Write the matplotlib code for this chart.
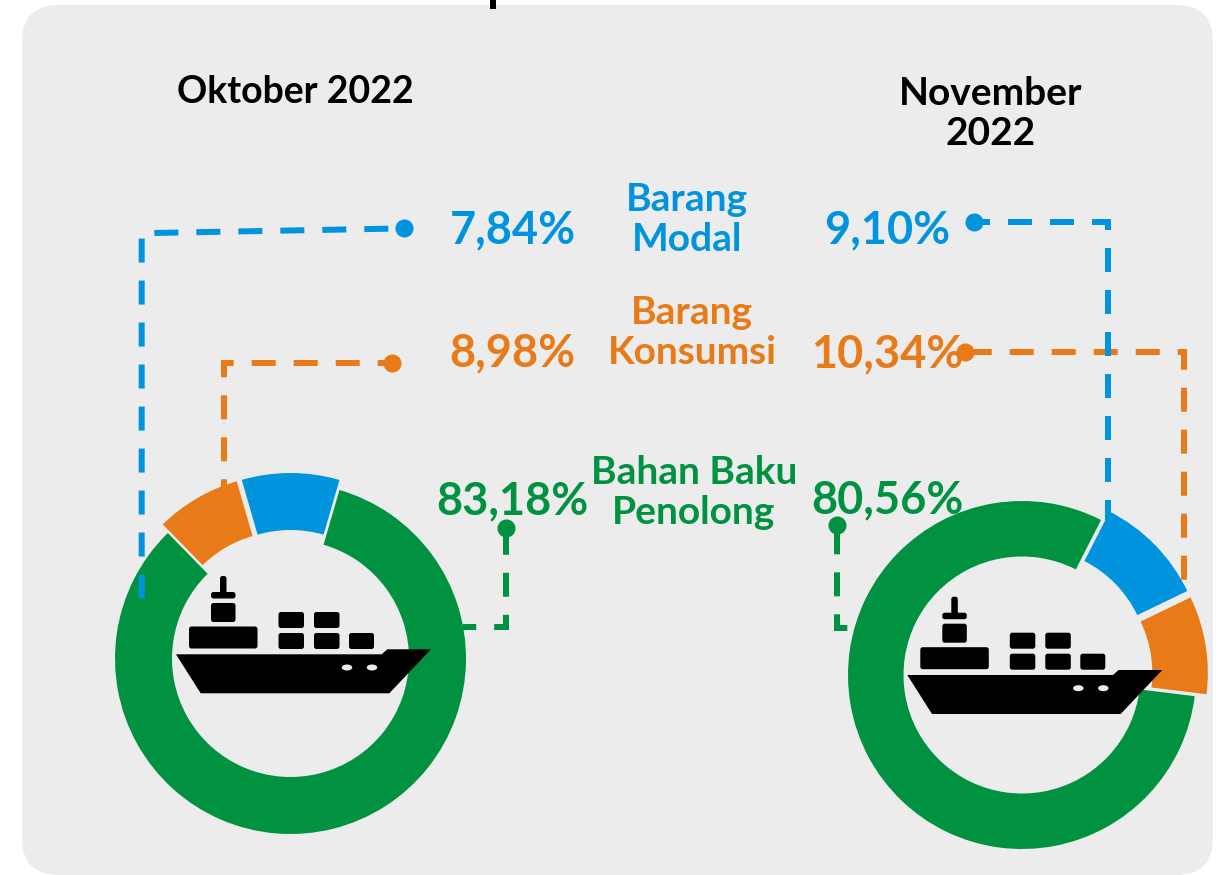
import matplotlib
matplotlib.use("Agg")
import matplotlib.pyplot as plt
from matplotlib.patches import FancyBboxPatch, Polygon, Ellipse, Rectangle

# ---- data ----
categories = ["Barang Modal", "Barang Konsumsi", "Bahan Baku Penolong"]
periods = ["Oktober 2022", "November\n2022"]
oct_labels = [7.84, 8.98, 83.18]
nov_labels = [9.10, 10.34, 80.56]
# slice sizes as drawn in the picture, clockwise from the start of the green slice
oct_slices = [83.18, 7.84, 8.98]
nov_slices = [80.56, 10.34, 9.10]

BLUE, ORANGE, GREEN = "#0094de", "#e87a18", "#009240"
PANEL = "#ececec"
W, H = 1220, 875

fig = plt.figure(figsize=(W / 100, H / 100), dpi=100, facecolor="white")
plt.rcParams["font.family"] = ["Lato", "DejaVu Sans"]


def full_axes(z):
    a = fig.add_axes([0, 0, 1, 1], zorder=z)
    a.set_xlim(0, W)
    a.set_ylim(H, 0)
    a.axis("off")
    a.patch.set_alpha(0)
    return a


bg = full_axes(0)
R = 37
bg.add_patch(FancyBboxPatch((22 + R, 5 + R), 1191 - 2 * R, 870 - 2 * R,
                            boxstyle=f"round,pad={R},rounding_size={R}",
                            fc=PANEL, ec="none"))


def donut(values, colors, cx, cy, radius, hole_r, shift, start):
    m = radius + 30
    a = fig.add_axes([(cx - m) / W, 1 - (cy + m) / H, 2 * m / W, 2 * m / H], zorder=1)
    a.pie(values, colors=colors, startangle=start, counterclock=False, radius=1,
          explode=[0, shift / radius, shift / radius],
          wedgeprops=dict(width=1 - hole_r / radius, edgecolor="none", linewidth=0))
    a.set_xlim(-m / radius, m / radius)
    a.set_ylim(-m / radius, m / radius)
    a.patch.set_alpha(0)


donut(oct_slices, [GREEN, ORANGE, BLUE], 290.5, 658.5, 175.5, 118.5, 10, 73.8)
donut(nov_slices, [GREEN, BLUE, ORANGE], 1022, 675, 174, 118.5, 12, -7)

ov = full_axes(2)


def box(x0, y0, x1, y1, r=2.5):
    ov.add_patch(FancyBboxPatch((x0 + r, y0 + r), x1 - x0 - 2 * r, y1 - y0 - 2 * r,
                                boxstyle=f"round,pad={r},rounding_size={r}",
                                fc="black", ec="none"))


def ship(dx, dy):
    hull = [(176, 654.3), (381.7, 654.3), (387.3, 649.3), (431, 649.3),
            (389.3, 693.3), (200.7, 693.3)]
    ov.add_patch(Polygon([(x + dx, y + dy) for x, y in hull], fc="black", ec="none"))
    for b in [(220, 576, 226.5, 594), (211, 592, 235.5, 598.5), (211, 603, 235.5, 622),
              (189, 626.5, 257.5, 648.5),
              (278.5, 612, 304, 628), (314, 612, 339.5, 628),
              (278.5, 633, 304, 649), (314, 633, 339.5, 649), (349, 633, 374, 649)]:
        box(b[0] + dx, b[1] + dy, b[2] + dx, b[3] + dy)
    for cx in (347, 372):
        ov.add_patch(Ellipse((cx + dx, 667.5 + dy), 10.5, 6, fc=PANEL, ec="none"))


ship(0, 0)
ship(731.3, 20.7)


def connector(pts, color, phase_px):
    xs, ys = zip(*pts)
    ov.plot(xs, ys, color=color, lw=4.32, linestyle=(phase_px / 6, (4, 3)),
            dash_capstyle="butt", dash_joinstyle="miter")
    ov.plot([xs[0]], [ys[0]], "o", color=color, ms=13, mec="none")


connector([(404, 228.4), (141.7, 233.2), (141.7, 598)], BLUE, 26.3)
connector([(392, 363), (224.3, 363), (224.3, 487)], ORANGE, 9.7)
connector([(505.5, 527.5), (505.5, 627), (463, 627)], GREEN, 39.2)
connector([(965.3, 352), (1184, 352), (1184, 581)], ORANGE, 39.3)
connector([(974, 222.3), (1108, 222.3), (1108, 520)], BLUE, 8)
connector([(837, 525), (837, 628), (848, 628)], GREEN, 36.7)


def txt(x, y, s, color="black", size=28.0, **kw):
    ov.text(x, y, s, color=color, fontsize=size, fontweight="bold",
            ha="center", va="center", **kw)


def pct(v):
    return f"{v:.2f}%".replace(".", ",")


txt(295.5, 92, periods[0], size=27)
txt(991, 113.5, periods[1], size=28, linespacing=1.14)

txt(512.5, 230, pct(oct_labels[0]), BLUE, 32.5)
txt(512.5, 353, pct(oct_labels[1]), ORANGE, 32.5)
txt(512.5, 501, pct(oct_labels[2]), GREEN, 32.5)
txt(887, 230, pct(nov_labels[0]), BLUE, 32.5)
txt(887, 354, pct(nov_labels[1]), ORANGE, 32.5)
txt(887.5, 500, pct(nov_labels[2]), GREEN, 32.5)

txt(687, 219.5, "Barang\nModal", BLUE, 28, linespacing=1.16)
txt(692, 332.5, "Barang\nKonsumsi", ORANGE, 28, linespacing=1.16)
txt(694, 492.5, "Bahan Baku\nPenolong", GREEN, 28, linespacing=1.16)

# sliver of the cropped-off headline at the top edge
ov.add_patch(Rectangle((490, 0), 6, 9, fc="black", ec="none"))

fig.savefig("out.png", dpi=100, facecolor="white")
